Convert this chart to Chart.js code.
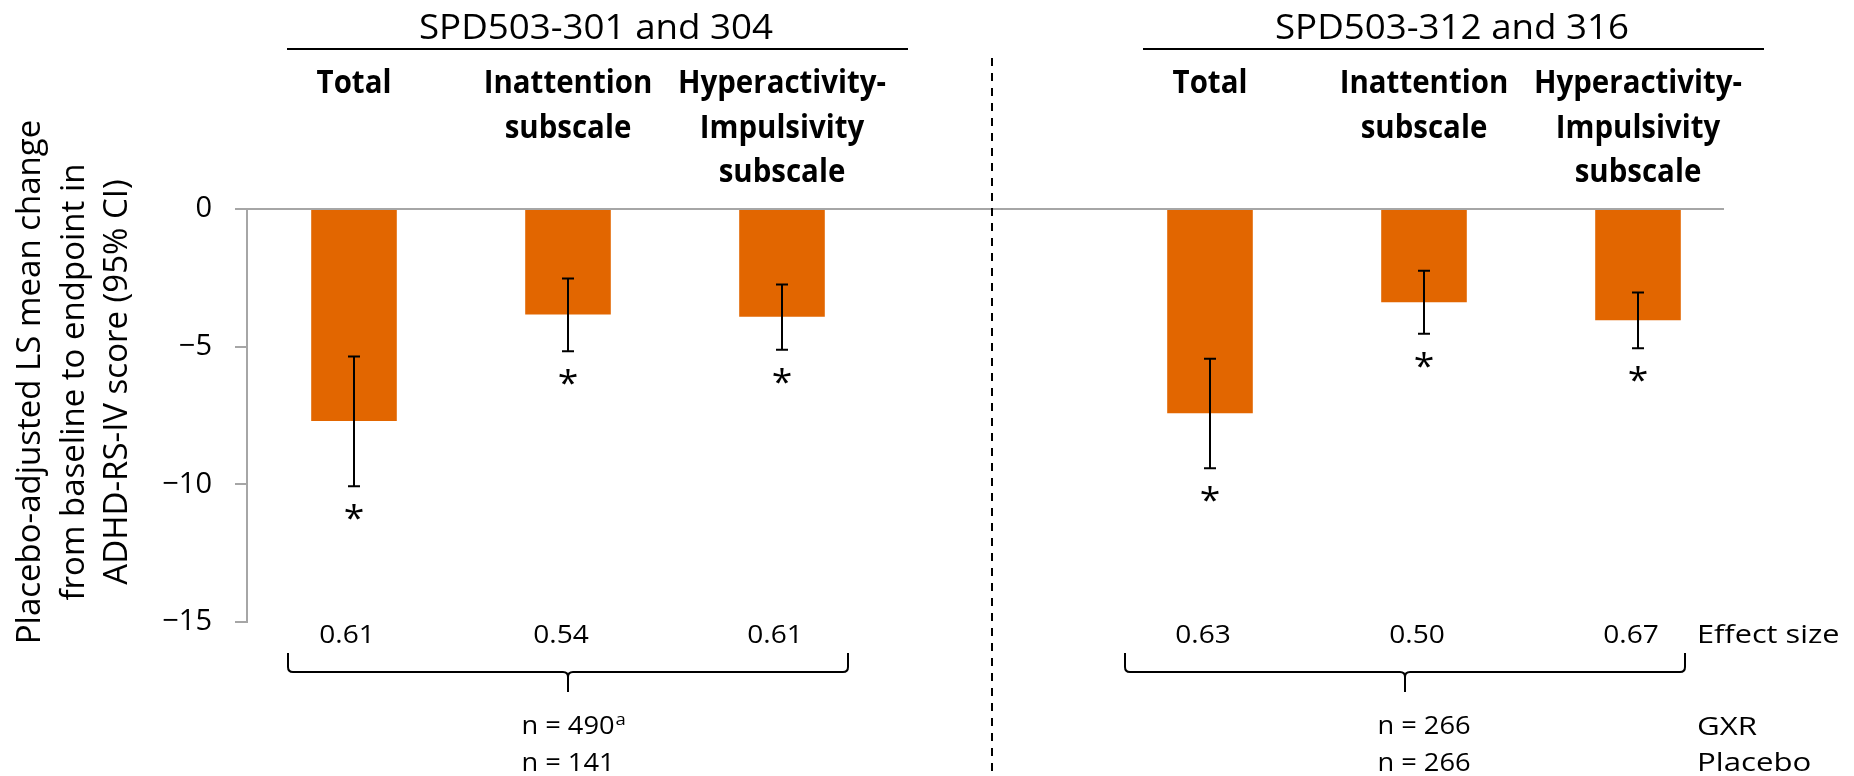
<!DOCTYPE html>
<html>
<head>
<meta charset="utf-8">
<script src="https://cdn.jsdelivr.net/npm/chart.js@4.4.1/dist/chart.umd.min.js"></script>
<style>
  body { margin: 0; background: #fff; }
  canvas { display: block; }
</style>
</head>
<body>
<canvas id="effectchart" width="1854" height="776"></canvas>
<script>
// data (slot 3 is the empty gap between the two study pairs)
const categories = [
  ['Total'],
  ['Inattention', 'subscale'],
  ['Hyperactivity-', 'Impulsivity', 'subscale'],
  [],
  ['Total'],
  ['Inattention', 'subscale'],
  ['Hyperactivity-', 'Impulsivity', 'subscale']
];
const meanChange = [-7.70, -3.83, -3.91, null, -7.42, -3.39, -4.04];
const ciUpper = [-5.36, -2.52, -2.74, null, -5.44, -2.24, -3.03];
const ciLower = [-10.07, -5.17, -5.11, null, -9.42, -4.53, -5.06];
const significant = [true, true, true, false, true, true, true];
const effectSizes = ['0.61', '0.54', '0.61', '', '0.63', '0.50', '0.67'];
const studyGroups = ['SPD503-301 and 304', 'SPD503-312 and 316'];
const groupCenter = [1, 5];           // category index under each study heading
const nGXR = ['490', '266'];
const nGXRNote = ['a', ''];
const nPlacebo = ['141', '266'];
const yTicks = [0, -5, -10, -15];
const yTitle = ['Placebo-adjusted LS mean change', 'from baseline to endpoint in', 'ADHD-RS-IV score (95% CI)'];
const rowLabels = ['Effect size', 'GXR', 'Placebo'];

const barColor = 'rgb(226, 102, 0)';
const FONT = "'Open Sans', 'Noto Sans', sans-serif";

function drawText(ctx, str, x, y, font, align, sx) {
  ctx.save();
  ctx.font = font;
  ctx.fillStyle = '#000';
  ctx.textAlign = align || 'center';
  ctx.textBaseline = 'alphabetic';
  ctx.translate(x, y);
  ctx.scale(sx || 1, 1);
  ctx.fillText(str, 0, 0);
  ctx.restore();
}

function drawBrace(ctx, left, center, right, top, mid, bottom) {
  const r = 5;
  ctx.beginPath();
  ctx.moveTo(left, top);
  ctx.lineTo(left, mid - r);
  ctx.quadraticCurveTo(left, mid, left + r, mid);
  ctx.lineTo(center - r, mid);
  ctx.quadraticCurveTo(center, mid, center, mid + r);
  ctx.lineTo(center, bottom);
  ctx.moveTo(right, top);
  ctx.lineTo(right, mid - r);
  ctx.quadraticCurveTo(right, mid, right - r, mid);
  ctx.lineTo(center + r, mid);
  ctx.quadraticCurveTo(center, mid, center, mid + r);
  ctx.stroke();
}

const decorations = {
  id: 'decorations',
  beforeDatasetsDraw(chart) {
    const { ctx, chartArea, scales: { x, y } } = chart;
    // zero reference line
    ctx.save();
    ctx.strokeStyle = '#a6a6a6';
    ctx.lineWidth = 2;
    ctx.beginPath();
    ctx.moveTo(chartArea.left, y.getPixelForValue(0));
    ctx.lineTo(x.getPixelForValue(6) + 86, y.getPixelForValue(0));
    ctx.stroke();
    ctx.restore();
  },
  afterDatasetsDraw(chart) {
    const { ctx, scales: { x, y } } = chart;
    ctx.save();

    // error bars + asterisks
    ctx.strokeStyle = '#000';
    ctx.lineWidth = 2;
    meanChange.forEach((v, i) => {
      if (v === null) return;
      const px = x.getPixelForValue(i);
      const yTop = y.getPixelForValue(ciUpper[i]);
      const yBot = y.getPixelForValue(ciLower[i]);
      ctx.beginPath();
      ctx.moveTo(px, yTop); ctx.lineTo(px, yBot);
      ctx.moveTo(px - 6, yTop); ctx.lineTo(px + 6, yTop);
      ctx.moveTo(px - 6, yBot); ctx.lineTo(px + 6, yBot);
      ctx.stroke();
      if (significant[i]) {
        drawText(ctx, '*', px, yBot + 44, '34px ' + FONT, 'center', 1.1);
      }
    });

    // dashed divider between the two study pairs
    ctx.save();
    ctx.setLineDash([8, 7]);
    ctx.lineWidth = 2;
    ctx.beginPath();
    const dx = Math.round(x.getPixelForValue(3)) - 4;
    ctx.moveTo(dx, 58);
    ctx.lineTo(dx, 776);
    ctx.stroke();
    ctx.restore();

    // category headings
    categories.forEach((lines, i) => {
      const px = x.getPixelForValue(i);
      lines.forEach((ln, j) => {
        drawText(ctx, ln, px, 93 + j * 44.5, 'bold 32px ' + FONT, 'center', 0.92);
      });
    });

    // study headings with rule underneath
    studyGroups.forEach((g, k) => {
      const c = x.getPixelForValue(groupCenter[k]);
      drawText(ctx, g, c + 28, 39, '34px ' + FONT, 'center', 1.08);
      ctx.lineWidth = 2;
      ctx.beginPath();
      ctx.moveTo(c - 281, 49);
      ctx.lineTo(c + 340, 49);
      ctx.stroke();
    });

    // effect sizes
    effectSizes.forEach((e, i) => {
      if (!e) return;
      drawText(ctx, e, x.getPixelForValue(i) - 7, 643, '26px ' + FONT, 'center', 1.08);
    });

    // braces
    ctx.lineWidth = 2;
    drawBrace(ctx, x.getPixelForValue(1) - 280, x.getPixelForValue(1), x.getPixelForValue(1) + 280, 653, 672, 692);
    drawBrace(ctx, x.getPixelForValue(5) - 299, x.getPixelForValue(5) - 19, x.getPixelForValue(5) + 261, 653, 672, 692);

    // sample sizes
    groupCenter.forEach((ci, k) => {
      const c = x.getPixelForValue(ci);
      const f = '25px ' + FONT;
      const s1 = 'n = ' + nGXR[k];
      drawText(ctx, s1, c, 734, f, 'center', 1.09);
      if (nGXRNote[k]) {
        ctx.font = f;
        const w = ctx.measureText(s1).width * 1.09;
        drawText(ctx, nGXRNote[k], c + w / 2 + 1, 725, '17px ' + FONT, 'left', 1.09);
      }
      drawText(ctx, 'n = ' + nPlacebo[k], c, 771, f, 'center', 1.09);
    });

    // row labels on the right
    drawText(ctx, rowLabels[0], 1697, 643, '26px ' + FONT, 'left', 1.18);
    drawText(ctx, rowLabels[1], 1697, 735, '26px ' + FONT, 'left', 1.2);
    drawText(ctx, rowLabels[2], 1697, 771, '26px ' + FONT, 'left', 1.2);

    // y-axis title
    yTitle.forEach((ln, j) => {
      ctx.save();
      ctx.translate(28 + j * 43.5 + 12, 382);
      ctx.rotate(-Math.PI / 2);
      ctx.font = '33px ' + FONT;
      ctx.fillStyle = '#000';
      ctx.textAlign = 'center';
      ctx.textBaseline = 'alphabetic';
      ctx.fillText(ln, 0, 0);
      ctx.restore();
    });

    ctx.restore();
  }
};

const ctx = document.getElementById('effectchart').getContext('2d');

const effectchart = new Chart(ctx, {
  type: 'bar',
  data: {
    labels: categories.map((c, i) => c.join(' ') || 'gap' + i),
    datasets: [{
      data: meanChange,
      backgroundColor: barColor,
      borderWidth: 0,
      barPercentage: 0.4,
      categoryPercentage: 1
    }]
  },
  options: {
    responsive: false,
    animation: false,
    layout: { padding: { top: 209, bottom: 154, right: 109, left: 0 } },
    plugins: {
      legend: { display: false },
      tooltip: { enabled: false }
    },
    scales: {
      x: { display: false, offset: true },
      y: {
        min: -15,
        max: 0,
        afterBuildTicks: s => { s.ticks = yTicks.map(v => ({ value: v })); },
        afterFit: s => { s.width = 247; },
        ticks: {
          padding: 23,
          color: '#000',
          font: { family: 'Open Sans', size: 29 },
          callback: v => (v < 0 ? '\u2212' + Math.abs(v) : String(v))
        },
        grid: { drawOnChartArea: false, tickLength: 12, color: '#a6a6a6', lineWidth: 2 },
        border: { color: '#a6a6a6', width: 2 }
      }
    }
  },
  plugins: [decorations]
});
</script>
</body>
</html>
